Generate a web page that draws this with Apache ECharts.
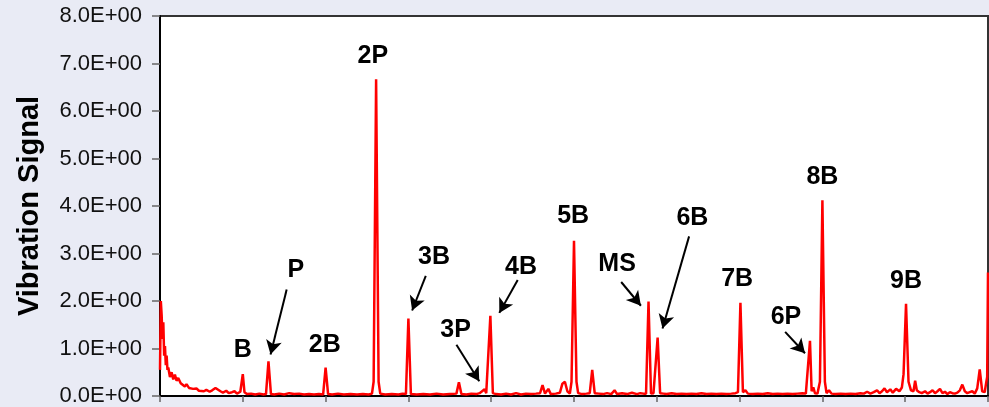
<!DOCTYPE html>
<html>
<head>
<meta charset="utf-8">
<script src="https://cdn.jsdelivr.net/npm/echarts@6/dist/echarts.min.js"></script>
<style>
html,body{margin:0;padding:0;background:#e9ebf5;}
#chart{width:989px;height:407px;}
</style>
</head>
<body>
<div id="chart"></div>
<script>
// Spectrum: frequency (axis units, ticks every 100) and vibration signal amplitude
const freq = [0,1,2,3,4,5,6,7,8,9,10,12,14,16,18,20,22,25,27,30,32,35,37,40,42,44,47,49,53,56,60,63,67,69,73,76,80,83,87,90,93,95,97,100,102,105,
110,115,120,125,128,131,134,138,144,150,156,162,168,174,180,186,192,197,200,203,208,215,222,230,238,245,252,256,258,261,264,266,272,280,288,293,297,300,303,
310,318,326,334,342,350,358,361,364,370,376,382,386,389,392,394,396,399,402,406,412,418,424,430,436,442,448,454,459,462,465,469,472,478,483,486,489,492,495,497,500,503,505,
510,515,519,522,525,530,535,540,545,549,552,558,564,570,576,580,584,587,590,593,596,598,601,604,608,612,618,624,630,636,642,648,654,660,666,672,678,684,690,695,698,701,704,707,
710,716,722,728,734,740,746,752,758,764,770,776,780,782,785,787,789,791,794,797,800,803,805,808,811,816,822,828,834,840,846,850,854,858,862,866,869,872,875,878,882,885,889,893,896,898,901,904,907,
910,912,914,917,920,924,927,930,933,936,939,942,945,948,951,954,957,960,963,966,969,972,975,978,981,984,987,990,993,996,998,999,1000];
const amp = [0.55,2.0,1.7,1.2,1.55,0.85,1.05,0.65,0.85,0.55,0.6,0.4,0.5,0.35,0.45,0.32,0.38,0.27,0.3,0.2,0.25,0.17,0.21,0.15,0.14,0.16,0.11,0.12,0.1,0.13,0.09,0.12,0.17,0.13,0.1,0.07,0.11,0.06,0.08,0.1,0.05,0.06,0.09,0.46,0.08,0.04,
0.05,0.03,0.05,0.03,0.04,0.73,0.04,0.03,0.05,0.03,0.06,0.04,0.05,0.03,0.04,0.03,0.04,0.03,0.6,0.04,0.03,0.05,0.03,0.04,0.03,0.04,0.03,0.05,0.3,6.67,0.3,0.05,0.03,0.04,0.03,0.05,0.04,1.63,0.04,
0.03,0.04,0.03,0.05,0.03,0.04,0.05,0.29,0.04,0.03,0.05,0.04,0.06,0.1,0.14,0.06,0.08,1.69,0.06,0.04,0.03,0.05,0.03,0.06,0.03,0.05,0.04,0.05,0.06,0.23,0.05,0.15,0.04,0.05,0.07,0.26,0.3,0.1,0.05,0.3,3.27,0.3,0.06,
0.04,0.05,0.06,0.55,0.06,0.05,0.04,0.06,0.04,0.12,0.04,0.06,0.04,0.07,0.04,0.06,0.05,0.05,1.99,0.05,0.06,0.1,1.23,0.06,0.05,0.04,0.06,0.04,0.05,0.04,0.05,0.04,0.06,0.04,0.05,0.04,0.05,0.04,0.05,0.06,0.08,1.96,0.08,0.12,
0.05,0.04,0.05,0.04,0.06,0.04,0.05,0.04,0.05,0.04,0.05,0.06,0.05,0.06,1.16,0.1,0.18,0.06,0.05,0.3,4.12,0.3,0.06,0.12,0.05,0.04,0.05,0.04,0.05,0.04,0.06,0.05,0.09,0.05,0.08,0.12,0.06,0.1,0.16,0.08,0.14,0.07,0.15,0.1,0.18,0.46,1.94,0.3,0.12,
0.1,0.32,0.12,0.08,0.06,0.1,0.05,0.08,0.12,0.06,0.1,0.15,0.06,0.09,0.04,0.08,0.06,0.05,0.07,0.12,0.24,0.1,0.06,0.08,0.1,0.05,0.16,0.56,0.1,0.08,0.3,0.4,2.6];

const yTicks = ['0.0E+00','1.0E+00','2.0E+00','3.0E+00','4.0E+00','5.0E+00','6.0E+00','7.0E+00','8.0E+00'];

// Peak annotations (text and its centre in data units)
const labelText = ['B','P','2B','2P','3B','3P','4B','5B','MS','6B','7B','6P','8B','9B'];
const labelX    = [100,164,199,257,331,357,436,499,552,643,697,756,800,901];
const labelY    = [0.96,2.65,1.07,7.15,2.92,1.38,2.71,3.79,2.77,3.75,2.46,1.67,4.61,2.42];

// Arrows (start -> end, data units)
const arrowX1 = [153,321,358,432,557,639,755];
const arrowY1 = [2.24,2.53,1.08,2.44,2.4,3.36,1.35];
const arrowX2 = [133.5,304.5,385.6,409.8,580.8,606.9,779];
const arrowY2 = [0.875,1.8,0.31,1.75,1.9,1.42,0.9];

const seriesData = freq.map((f, i) => [f, amp[i]]);
const labelData = labelText.map((t, i) => ({name: t, coord: [labelX[i], labelY[i]]}));
const arrowData = arrowX1.map((x, i) => [{coord: [x, arrowY1[i]]}, {coord: [arrowX2[i], arrowY2[i]]}]);

const chart = echarts.init(document.getElementById('chart'));
chart.setOption({
  backgroundColor: '#e9ebf5',
  animation: false,
  grid: {left: 160, top: 16, right: 1, bottom: 9, show: true, backgroundColor: '#ffffff', borderColor: '#333', borderWidth: 2},
  xAxis: {
    type: 'value', min: 0, max: 1000, interval: 100,
    axisLine: {show: true, onZero: false, lineStyle: {color: '#000', width: 2}},
    axisTick: {show: true, length: 6, lineStyle: {color: '#666', width: 1.5}},
    axisLabel: {show: false},
    splitLine: {show: false}
  },
  yAxis: {
    type: 'value', min: 0, max: 8, interval: 1,
    name: 'Vibration Signal', nameLocation: 'middle', nameGap: 116, nameRotate: 90,
    nameTextStyle: {fontFamily: 'Liberation Sans, Arial', fontWeight: 'bold', fontSize: 29, color: '#000'},
    axisLine: {show: true, lineStyle: {color: '#000', width: 2}},
    axisTick: {show: true, length: 8, lineStyle: {color: '#666', width: 1.5}},
    axisLabel: {margin: 18, fontFamily: 'Liberation Sans, Arial', fontSize: 22, color: '#111',
      formatter: (v) => yTicks[Math.round(v)]},
    splitLine: {show: false}
  },
  series: [{
    type: 'line', data: seriesData, showSymbol: false, symbol: 'none',
    lineStyle: {color: '#ff0000', width: 2.5}, itemStyle: {color: '#ff0000'},
    markPoint: {
      silent: true, symbol: 'circle', symbolSize: 1, itemStyle: {color: 'rgba(0,0,0,0)'},
      label: {show: true, position: 'inside', formatter: '{b}', fontFamily: 'Liberation Sans, Arial', fontWeight: 'bold', fontSize: 25, color: '#000'},
      data: labelData
    },
    markLine: {
      silent: true, symbol: ['none', 'arrow'], symbolSize: [12, 14],
      label: {show: false},
      lineStyle: {color: '#000', width: 2, type: 'solid'},
      data: arrowData
    }
  }]
});
</script>
</body>
</html>
